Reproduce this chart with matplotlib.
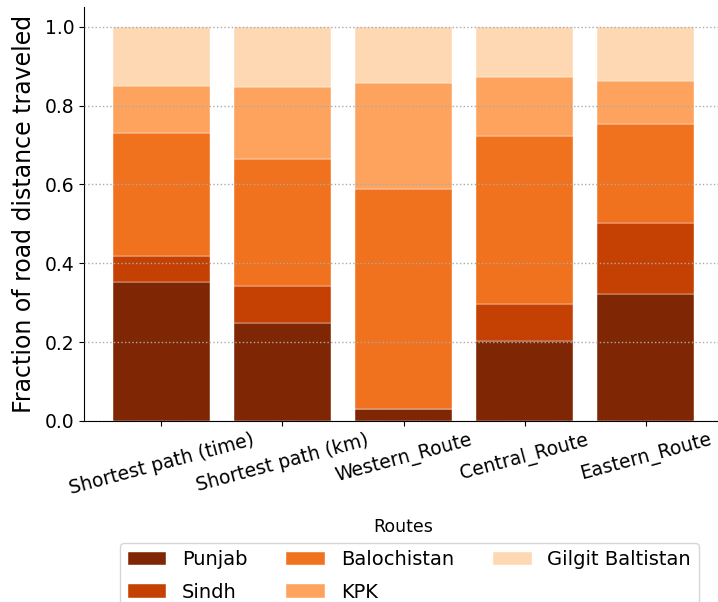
import matplotlib.pyplot as plt
import numpy as np

routes = ["Shortest path (time)", "Shortest path (km)", "Western_Route", "Central_Route", "Eastern_Route"]
provinces = ["Punjab", "Sindh", "Balochistan", "KPK", "Gilgit Baltistan"]

punjab = [0.353, 0.249, 0.030, 0.204, 0.322]
sindh = [0.066, 0.094, 0.001, 0.093, 0.179]
balochistan = [0.312, 0.321, 0.557, 0.426, 0.253]
kpk = [0.119, 0.182, 0.268, 0.150, 0.108]
gilgit = [0.150, 0.154, 0.144, 0.127, 0.138]

colors = ["#7f2704", "#c44103", "#f0711e", "#fda35e", "#fdd8b2"]

fig = plt.figure(figsize=(7.18, 6.02), dpi=100)
ax = fig.add_axes([0.117, 0.3007, 0.890, 0.6877])

x = np.arange(len(routes))
bottom = np.zeros(len(routes))
for name, vals, c in zip(provinces, [punjab, sindh, balochistan, kpk, gilgit], colors):
    ax.bar(x, vals, width=0.8, bottom=bottom, color=c, label=name,
           edgecolor="white", linewidth=0.3, zorder=1)
    bottom += np.array(vals)

ax.set_ylim(0, 1.05)
ax.set_xlim(-0.64, 4.64)
ax.set_xticks(x)
ax.set_xticklabels(routes, rotation=15, ha="center", fontsize=13.5)
ax.tick_params(axis="y", labelsize=13.5)
ax.yaxis.grid(True, linestyle=":", color="#aaaaaa", linewidth=1, zorder=3)
ax.set_axisbelow(False)
for side in ["top", "right"]:
    ax.spines[side].set_visible(False)

ax.set_ylabel("Fraction of road distance traveled", fontsize=17, labelpad=6)
ax.set_xlabel("Routes", fontsize=12.5, labelpad=14)

ax.legend(loc="upper center", bbox_to_anchor=(0.509, -0.294),
          borderaxespad=0, ncol=3, fontsize=14, labelspacing=0.7, frameon=True)

fig.savefig("out.png", dpi=100)
